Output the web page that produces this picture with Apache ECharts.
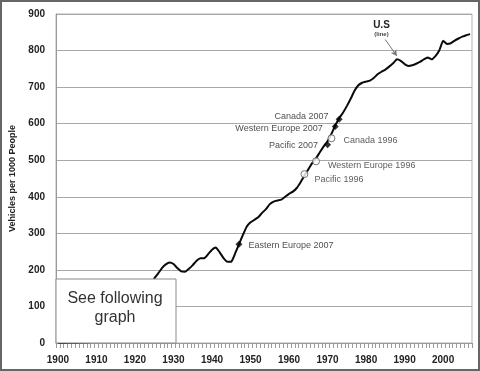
<!DOCTYPE html>
<html>
<head>
<meta charset="utf-8">
<script src="https://cdn.jsdelivr.net/npm/echarts@6/dist/echarts.min.js"></script>
<style>
html,body{margin:0;padding:0;background:#fff;}
#chart{width:480px;height:371px;}
</style>
</head>
<body>
<div id="chart"></div>
<script>
// Years on the x axis
var years = [];
for (var y = 1900; y <= 2007; y++) years.push(String(y));

// U.S. vehicles per 1000 people, 1900-2007 (early years lie under the note box)
var usValues = [
  0.1, 0.2, 0.3, 0.4, 0.6, 1, 1.3, 1.6, 2.2, 3.4,
  5, 7, 9.5, 12, 17, 25, 35, 48, 60, 72,
  87, 97, 110, 135, 155, 176, 190, 205, 215, 220,
  216, 205, 196, 195, 203, 213, 225, 232, 232, 243,
  255, 261, 248, 232, 222, 222, 245, 270, 295, 318,
  330, 337, 344, 356, 366, 380, 387, 390, 392, 400,
  408, 414, 424, 440, 458, 475, 492, 505, 522, 538,
  552, 572, 595, 615, 630, 648, 668, 690, 705, 712,
  715, 718, 725, 735, 742, 748, 756, 765, 776, 772,
  763, 758, 760, 764, 769, 776, 781, 776, 785, 800,
  827, 818, 820, 827, 833, 838, 842, 845
];

// Regional levels, placed at the year the U.S. had the same level
var filledNames = ['Eastern Europe 2007', 'Pacific 2007', 'Western Europe 2007', 'Canada 2007'];
var filledYears = ['1947', '1970', '1972', '1973'];
var filledValues = [270, 542, 592, 612];
var openNames = ['Pacific 1996', 'Western Europe 1996', 'Canada 1996'];
var openYears = ['1964', '1967', '1971'];
var openValues = [462, 497, 560];

var yTicks = [0, 100, 200, 300, 400, 500, 600, 700, 800, 900];

var chart = echarts.init(document.getElementById('chart'), null, {renderer: 'canvas'});

function pairs(names, xs, vs, labelPos) {
  return names.map(function (n, i) {
    var pos = labelPos[i];
    return {name: n, value: [xs[i], vs[i]], label: {position: pos[0], offset: pos[1]}};
  });
}

var filledLabelPos = [['right', [1, 1]], ['left', [-1, 1]], ['left', [-4, 2]], ['left', [-2, -3]]];
var openLabelPos = [['right', [1, 5]], ['right', [3, 4]], ['right', [3, 2]]];

var option = {
  animation: false,
  backgroundColor: '#fff',
  grid: {left: 56, top: 14, right: 8, bottom: 28, show: true, borderColor: '#b5b5b5', borderWidth: 1},
  xAxis: {
    type: 'category',
    data: years,
    boundaryGap: true,
    axisLine: {lineStyle: {color: '#9a9a9a', width: 1}},
    axisTick: {show: true, interval: 0, length: 5, lineStyle: {color: '#9a9a9a'}},
    axisLabel: {interval: 9, fontFamily: 'Liberation Sans, Arial', fontWeight: 'bold', fontSize: 10, color: '#222', margin: 12},
    splitLine: {show: false}
  },
  yAxis: {
    type: 'value',
    min: yTicks[0],
    max: yTicks[yTicks.length - 1],
    interval: 100,
    name: 'Vehicles per 1000 People',
    nameLocation: 'middle',
    nameGap: 37,
    nameTextStyle: {fontFamily: 'Liberation Sans, Arial', fontWeight: 'bold', fontSize: 9, color: '#222'},
    axisLine: {show: true, lineStyle: {color: '#9a9a9a'}},
    axisTick: {show: false},
    axisLabel: {fontFamily: 'Liberation Sans, Arial', fontWeight: 'bold', fontSize: 10, color: '#222', margin: 11},
    splitLine: {show: true, lineStyle: {color: '#a8a8a8', width: 1}}
  },
  series: [
    {
      type: 'line',
      data: usValues,
      symbol: 'none',
      smooth: 0.12,
      lineStyle: {color: '#0a0a0a', width: 2},
      z: 2,
      markLine: {
        silent: true,
        symbol: ['none', 'arrow'],
        symbolSize: [5, 6],
        lineStyle: {color: '#777', width: 1, type: 'solid'},
        label: {show: false},
        data: [[{coord: ['1985', 830]}, {coord: ['1988', 785]}]]
      },
      markPoint: {
        silent: true,
        symbol: 'circle',
        symbolSize: 0,
        data: [
          {coord: ['1984', 868], label: {show: true, formatter: 'U.S', fontFamily: 'Liberation Sans, Arial', fontWeight: 'bold', fontSize: 10, color: '#222'}},
          {coord: ['1984', 845], label: {show: true, formatter: '(line)', fontFamily: 'Liberation Sans, Arial', fontWeight: 'bold', fontSize: 6, color: '#444'}}
        ]
      }
    },
    {
      type: 'scatter',
      data: pairs(openNames, openYears, openValues, openLabelPos),
      symbol: 'circle',
      symbolSize: 7,
      itemStyle: {color: '#fff', borderColor: '#555', borderWidth: 1},
      label: {show: true, formatter: '{b}', fontFamily: 'Liberation Sans, Arial', fontSize: 9, color: '#333'},
      z: 4
    },
    {
      type: 'scatter',
      data: pairs(filledNames, filledYears, filledValues, filledLabelPos),
      symbol: 'diamond',
      symbolSize: 7,
      itemStyle: {color: '#000'},
      label: {show: true, formatter: '{b}', fontFamily: 'Liberation Sans, Arial', fontSize: 9, color: '#222'},
      z: 5
    }
  ],
  graphic: [
    {
      type: 'rect', z: 100,
      shape: {x: 56, y: 279, width: 120, height: 64},
      style: {fill: '#fff', stroke: '#8a8a8a', lineWidth: 1}
    },
    {
      type: 'text', z: 101,
      x: 115, y: 308,
      style: {text: 'See following\ngraph', fontFamily: 'Liberation Sans, Arial', fontSize: 16, fill: '#333', align: 'center', verticalAlign: 'middle', lineHeight: 19}
    },
    {
      type: 'rect', z: 102,
      shape: {x: 1, y: 1, width: 478, height: 369},
      style: {fill: 'none', stroke: '#666', lineWidth: 2}
    }
  ]
};
chart.setOption(option);
</script>
</body>
</html>
